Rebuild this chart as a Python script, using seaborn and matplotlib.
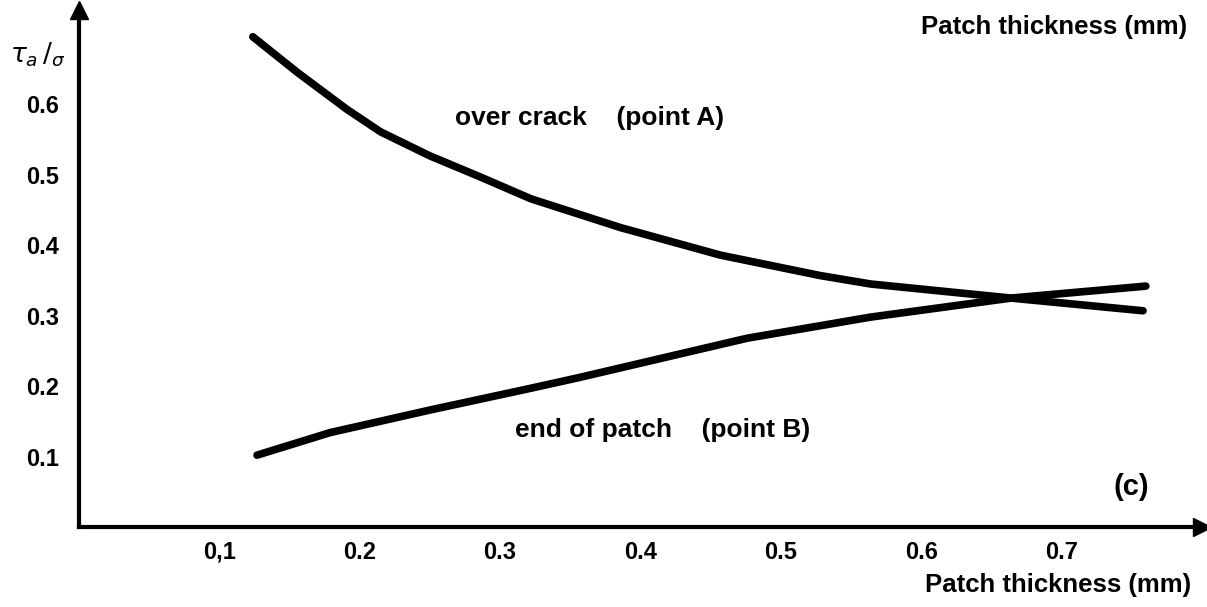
import pandas as pd
import matplotlib
matplotlib.use("Agg")
import matplotlib.pyplot as plt
import seaborn as sns

# shear stress ratio vs patch thickness
thick_a = [0.124, 0.156, 0.191, 0.215, 0.250, 0.286, 0.322, 0.386, 0.457, 0.528, 0.564, 0.664, 0.758]
ratio_a = [0.696, 0.645, 0.593, 0.561, 0.527, 0.497, 0.466, 0.425, 0.386, 0.357, 0.345, 0.325, 0.307]

thick_b = [0.127, 0.179, 0.250, 0.322, 0.356, 0.476, 0.564, 0.664, 0.760]
ratio_b = [0.102, 0.134, 0.166, 0.197, 0.212, 0.268, 0.298, 0.325, 0.342]

x_ticks = [0.1, 0.2, 0.3, 0.4, 0.5, 0.6, 0.7]
x_ticklabels = ["0,1", "0.2", "0.3", "0.4", "0.5", "0.6", "0.7"]
y_ticks = [0.1, 0.2, 0.3, 0.4, 0.5, 0.6]
y_ticklabels = ["0.1", "0.2", "0.3", "0.4", "0.5", "0.6"]

df = pd.concat([
    pd.DataFrame({"thickness": thick_a, "ratio": ratio_a, "curve": "A"}),
    pd.DataFrame({"thickness": thick_b, "ratio": ratio_b, "curve": "B"}),
])

sns.set_style("white")
plt.rcParams["font.family"] = ["Liberation Sans", "DejaVu Sans"]
plt.rcParams["text.color"] = "black"

fig = plt.figure(figsize=(12.07, 6.07), dpi=100)
W, H = 1207, 607
ax = fig.add_axes([78.7 / W, (H - 527) / H, (1202 - 78.7) / W, (527 - 10) / H])

sns.lineplot(data=df, x="thickness", y="ratio", units="curve", estimator=None,
             color="black", linewidth=5.5, sort=False, ax=ax,
             solid_capstyle="round", solid_joinstyle="round")

ax.set_xlim(0, 0.80)
ax.set_ylim(0, 0.734)
ax.set_xlabel("")
ax.set_ylabel("")
sns.despine(ax=ax)
for s in ["left", "bottom"]:
    ax.spines[s].set_linewidth(3)
    ax.spines[s].set_color("black")

# arrow heads on the axes
ax.plot(1, 0, ">k", markersize=13, transform=ax.transAxes, clip_on=False)
ax.plot(0, 1, "^k", markersize=13, transform=ax.transAxes, clip_on=False)

ax.set_xticks(x_ticks)
ax.set_xticklabels(x_ticklabels, fontsize=17, fontweight="bold")
ax.set_yticks(y_ticks)
ax.set_yticklabels(y_ticklabels, fontsize=17, fontweight="bold")
ax.tick_params(axis="x", direction="in", length=10, width=2.5, pad=10,
               colors="black", labelcolor="black")
ax.tick_params(axis="y", direction="in", length=13, width=2.5, pad=14,
               colors="black", labelcolor="black")

ax.text(0.268, 0.581, "over crack    (point A)", fontsize=19, fontweight="bold",
        va="center", ha="left", color="black")
ax.text(0.311, 0.138, "end of patch    (point B)", fontsize=19, fontweight="bold",
        va="center", ha="left", color="black")
ax.text(0.737, 0.057, "(c)", fontsize=21, fontweight="bold", va="center", ha="left",
        color="black")

fig.text(38 / W, 1 - 55 / H, r"$\tau_a\,/_{\sigma}$", fontsize=19, ha="center",
         va="center", color="black")
fig.text(1187 / W, 1 - 27 / H, "Patch thickness (mm)", fontsize=18.5, fontweight="bold",
         ha="right", va="center", color="black")
fig.text(1191 / W, 1 - 585 / H, "Patch thickness (mm)", fontsize=18.5, fontweight="bold",
         ha="right", va="center", color="black")

fig.savefig("out.png", dpi=100, facecolor="white")
